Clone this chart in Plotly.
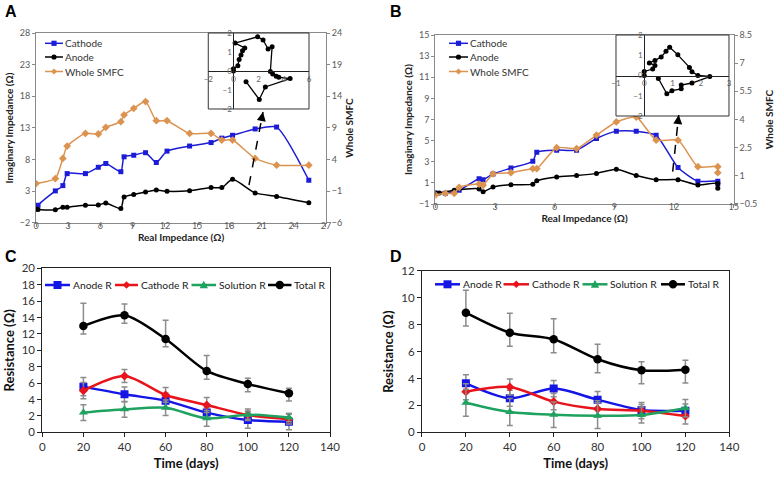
import plotly.graph_objects as go

# ---------------- Panel A data ----------------
a_x = [0, 0.19, 1.8, 2.5, 2.9, 4.6, 5.8, 6.5, 7.9, 8.2, 9.1, 10.2, 11.2, 12.2, 14.3, 16.3, 17.3, 18.3, 20.4, 22.4, 25.4]
a_cathode = [0.16, 0.8, 3.07, 3.9, 5.8, 5.8, 6.8, 7.4, 6.1, 8.45, 8.7, 9.1, 7.55, 9.35, 10.15, 10.7, 11.4, 11.85, 12.85, 13.15, 4.75]
a_anode = [0.2, 0.15, 0.1, 0.5, 0.5, 0.8, 0.85, 1.15, 0.27, 2.1, 2.5, 2.9, 3.2, 3.0, 3.1, 3.6, 3.6, 4.9, 2.75, 2.2, 1.2]
a_whole_x = [0, 1.8, 2.5, 2.9, 4.6, 5.8, 6.5, 7.9, 8.2, 9.1, 10.2, 11.2, 12.2, 14.3, 16.3, 17.3, 18.3, 20.4, 22.4, 25.4]
a_whole = [0.23, 1.02, 4.2, 6.14, 8.15, 8.05, 9.1, 10.0, 11.06, 12.1, 13.17, 10.16, 10.16, 8.15, 8.15, 7.1, 7.1, 4.2, 3.13, 3.13]
a_inset_x = [0, 0, 0.35, 0.45, 0.6, 0.72, 0.9, 0.13, 1.92, 2.35, 2.75, 3.07, 2.93, 3.12, 3.4, 3.6, 4.5, 2.53, 2.05, 1.0]
a_inset_y = [0, 0.12, 0.28, 0.6, 0.84, 1.07, 1.21, 1.47, 1.8, 1.63, 1.16, 1.28, -0.03, -0.16, -0.28, -0.33, -0.4, -0.84, -1.5, -0.56]

# ---------------- Panel B data ----------------
b_cat_x = [0, 0.5, 1.2, 2.2, 2.4, 2.9, 3.8, 4.9, 5.1, 6.1, 7.1, 8.1, 9.1, 10.1, 11.1, 12.2, 13.2, 14.2, 14.2]
b_cathode = [0.05, 0.02, 0.3, 1.4, 1.3, 1.85, 2.4, 3.05, 3.9, 4.1, 4.1, 5.2, 5.9, 5.9, 5.5, 2.45, 1.15, 1.15, 0.9]
b_an_x = [0, 0.2, 0.95, 2.2, 2.4, 2.9, 3.8, 4.9, 5.1, 6.1, 7.1, 8.1, 9.1, 10.1, 11.1, 12.2, 13.2, 14.2, 14.2]
b_anode = [0.05, 0.05, 0.3, 0.43, 0.15, 0.6, 0.82, 0.88, 1.2, 1.56, 1.7, 1.9, 2.3, 1.7, 1.3, 1.3, 0.8, 0.95, 0.5]
b_wh_x = [0, 0.5, 0.95, 1.2, 2.2, 2.4, 2.9, 3.8, 4.9, 5.1, 6.1, 7.1, 8.1, 9.1, 10.1, 11.1, 12.2, 13.2, 14.2, 14.2]
b_whole = [-0.02, 0.07, 0.07, 0.39, 0.56, 0.5, 1.1, 1.17, 1.38, 1.38, 2.5, 2.45, 3.17, 3.87, 4.13, 2.9, 2.9, 1.49, 1.49, 1.17]
b_inset_x = [0, 0, 0.3, 0.38, 0.18, 0.38, 0.6, 0.77, 0.9, 1.19, 1.6, 1.69, 1.9, 2.32, 1.69, 1.31, 1.31, 0.98, 0.8, 0.5]
b_inset_y = [0, 0.2, 0.32, 0.5, 0.62, 0.74, 0.92, 1.2, 1.4, 1.02, 0.4, 0.19, 0.0, -0.05, -0.37, -0.47, -0.66, -0.75, -0.9, -0.15]

# ---------------- Panel C / D data ----------------
days = [20, 40, 60, 80, 100, 120]
c_anode = [5.57, 4.63, 3.86, 2.4, 1.5, 1.3]
c_cathode = [5.08, 6.87, 4.55, 3.33, 2.1, 1.6]
c_solution = [2.4, 2.8, 3.0, 1.7, 2.15, 1.8]
c_total = [12.97, 14.27, 11.38, 7.48, 5.9, 4.76]
c_anode_err = [1.1, 0.9, 0.9, 0.6, 1.0, 1.0]
c_cathode_err = [1.0, 0.8, 0.9, 0.9, 0.5, 0.6]
c_solution_err = [0.95, 0.95, 0.95, 0.95, 0.7, 0.5]
c_total_errp = [2.76, 1.38, 2.3, 1.9, 0.7, 0.6]
c_total_errm = [0.97, 0.97, 0.95, 1.0, 0.95, 0.95]

d_anode = [3.64, 2.53, 3.25, 2.43, 1.66, 1.61]
d_cathode = [3.02, 3.37, 2.28, 1.74, 1.61, 1.21]
d_solution = [2.2, 1.51, 1.31, 1.24, 1.29, 1.79]
d_total = [8.9, 7.41, 6.92, 5.43, 4.61, 4.66]
d_anode_err = [0.65, 0.6, 0.6, 0.6, 0.4, 0.5]
d_cathode_err = [0.6, 0.6, 0.6, 0.6, 0.6, 0.6]
d_solution_err = [1.0, 1.0, 0.95, 0.95, 0.6, 0.65]
d_total_errp = [1.66, 1.45, 1.53, 1.12, 0.63, 0.7]
d_total_errm = [1.0, 1.0, 1.0, 1.0, 1.0, 1.0]

ab_names = ['Cathode', 'Anode', 'Whole SMFC']
cd_names = ['Anode R', 'Cathode R', 'Solution R', 'Total R']

BLUE_AB = '#1c1cd6'
ORANGE = '#dc9350'
BLUE = '#1515e6'
RED = '#e8141b'
GREEN = '#1fa15f'
TICK = '#595959'
FONT = 'Lato'
W, H = 776, 477

fig = go.Figure()

# ---- Panel A ----
fig.add_trace(go.Scatter(x=a_x, y=a_cathode, name=ab_names[0], mode='lines+markers',
                         line=dict(color=BLUE_AB, width=1.5, shape='spline', smoothing=0.6),
                         marker=dict(symbol='square', size=5, color=BLUE_AB), xaxis='x', yaxis='y'))
fig.add_trace(go.Scatter(x=a_x, y=a_anode, name=ab_names[1], mode='lines+markers',
                         line=dict(color='black', width=1.5, shape='spline', smoothing=0.6),
                         marker=dict(symbol='circle', size=5, color='black'), xaxis='x', yaxis='y'))
fig.add_trace(go.Scatter(x=a_whole_x, y=a_whole, name=ab_names[2], mode='lines+markers',
                         line=dict(color=ORANGE, width=1.5, shape='spline', smoothing=0.6),
                         marker=dict(symbol='diamond', size=6, color=ORANGE), xaxis='x', yaxis='y2'))
fig.add_trace(go.Scatter(x=a_inset_x, y=a_inset_y, mode='lines+markers',
                         line=dict(color='black', width=1.3),
                         marker=dict(symbol='circle', size=5, color='black'), xaxis='x5', yaxis='y7'))

# ---- Panel B ----
fig.add_trace(go.Scatter(x=b_cat_x, y=b_cathode, name=ab_names[0], mode='lines+markers',
                         line=dict(color=BLUE_AB, width=1.5, shape='spline', smoothing=0.6),
                         marker=dict(symbol='square', size=5, color=BLUE_AB), xaxis='x2', yaxis='y3'))
fig.add_trace(go.Scatter(x=b_an_x, y=b_anode, name=ab_names[1], mode='lines+markers',
                         line=dict(color='black', width=1.5, shape='spline', smoothing=0.6),
                         marker=dict(symbol='circle', size=5, color='black'), xaxis='x2', yaxis='y3'))
fig.add_trace(go.Scatter(x=b_wh_x, y=b_whole, name=ab_names[2], mode='lines+markers',
                         line=dict(color=ORANGE, width=1.5, shape='spline', smoothing=0.6),
                         marker=dict(symbol='diamond', size=6, color=ORANGE), xaxis='x2', yaxis='y4'))
fig.add_trace(go.Scatter(x=b_inset_x, y=b_inset_y, mode='lines+markers',
                         line=dict(color='black', width=1.3),
                         marker=dict(symbol='circle', size=5, color='black'), xaxis='x6', yaxis='y8'))


def err(arr, arrm=None):
    d = dict(type='data', array=arr, color='#8c8c8c', thickness=1.5, width=3)
    if arrm is not None:
        d['symmetric'] = False
        d['arrayminus'] = arrm
    return d


def add_resist(xa, ya, an, ca, so, to, ane, cae, soe, tep, tem):
    specs = [(an, BLUE, 'square', 8, err(ane), cd_names[0]),
             (ca, RED, 'diamond', 7, err(cae), cd_names[1]),
             (so, GREEN, 'triangle-up', 8, err(soe), cd_names[2]),
             (to, 'black', 'circle', 8.5, err(tep, tem), cd_names[3])]
    for vals, col, sym, sz, e, nm in specs:
        fig.add_trace(go.Scatter(x=days, y=vals, name=nm, mode='lines+markers',
                                 line=dict(color=col, width=2.5, shape='spline', smoothing=0.8),
                                 marker=dict(symbol=sym, size=sz, color=col),
                                 error_y=e, xaxis=xa, yaxis=ya))


add_resist('x3', 'y5', c_anode, c_cathode, c_solution, c_total,
           c_anode_err, c_cathode_err, c_solution_err, c_total_errp, c_total_errm)
add_resist('x4', 'y6', d_anode, d_cathode, d_solution, d_total,
           d_anode_err, d_cathode_err, d_solution_err, d_total_errp, d_total_errm)

# ---------------- layout ----------------
small_tick = dict(size=9, color=TICK, family=FONT)
ab_title = dict(size=10, color='#222', family=FONT)


def ab_x(domain, rng, dtick):
    return dict(domain=domain, range=rng, dtick=dtick, tick0=0, showline=True, linecolor='#8a8a8a',
                mirror=True, ticks='outside', ticklen=3, tickcolor='#8a8a8a', showgrid=False,
                zeroline=False, tickfont=small_tick, automargin=False, ticklabelstandoff=-9)


def ab_y(domain, rng, dtick, tick0):
    return dict(domain=domain, range=rng, dtick=dtick, tick0=tick0, showline=True, linecolor='#8a8a8a',
                ticks='outside', ticklen=3, tickcolor='#8a8a8a', showgrid=False, zeroline=False,
                tickfont=small_tick, automargin=False)


A_X = [0.0464, 0.4201]
A_Y = [0.5325, 0.9308]
B_X = [0.561, 0.9455]
B_Y = [0.5723, 0.9266]
C_X = [0.0545, 0.4253]
C_Y = [0.0937, 0.4375]
D_X = [0.5438, 0.9398]
D_Y = [0.0937, 0.4319]
IA_X = [0.2684, 0.3982]
IA_Y = [0.7715, 0.9308]
IB_X = [0.7938, 0.9394]
IB_Y = [0.7568, 0.9266]

xa = ab_x(A_X, [0, 27], 3)
xa.update(anchor='y', title=dict(text='<b>Real Impedance (Ω)</b>', font=ab_title, standoff=3))
ya = ab_y(A_Y, [-2, 28], 5, -2)
ya.update(anchor='x', title=dict(text='<b>Imaginary Impedance (Ω)</b>', font=ab_title, standoff=4))
ya2 = ab_y(A_Y, [-6, 24], 5, -6)
ya2.update(overlaying='y', side='right', anchor='x',
           title=dict(text='<b>Whole SMFC</b>', font=ab_title, standoff=4))

xb = ab_x(B_X, [0, 15], 3)
xb.update(anchor='y3', title=dict(text='<b>Real Impedance (Ω)</b>', font=ab_title, standoff=3))
yb = ab_y(B_Y, [-1, 15], 2, -1)
yb.update(anchor='x2', title=dict(text='<b>Imaginary Impedance (Ω)</b>', font=ab_title, standoff=4))
yb2 = ab_y(B_Y, [-0.5, 8.5], 1.5, -0.5)
yb2.update(overlaying='y3', side='right', anchor='x2',
           title=dict(text='<b>Whole SMFC</b>', font=ab_title, standoff=9))

cd_tick = dict(size=11.5, color='#333', family=FONT)
cd_title = dict(size=13, color='#111', family=FONT)


def cd_x(domain, anchor):
    return dict(domain=domain, anchor=anchor, range=[0, 140], dtick=20, tick0=0, showline=True,
                linecolor='#222', linewidth=1, mirror=True, ticks='outside', ticklen=4, tickcolor='#222',
                showgrid=False, zeroline=False, tickfont=cd_tick, automargin=False,
                title=dict(text='<b>Time (days)</b>', font=cd_title, standoff=6))


def cd_y(domain, anchor, rng, dtick):
    return dict(domain=domain, anchor=anchor, range=rng, dtick=dtick, tick0=0, showline=True,
                linecolor='#222', linewidth=1, mirror=True, ticks='outside', ticklen=4, tickcolor='#222',
                showgrid=False, zeroline=False, tickfont=cd_tick, automargin=False,
                title=dict(text='<b>Resistance (Ω)</b>', font=cd_title, standoff=4))


inset_tick = dict(size=8, color='#666', family=FONT)


def inset_x(domain, rng, pos):
    return dict(domain=domain, range=rng, dtick=2 if rng[1] > 4 else 1, anchor='free', position=pos,
                showline=True, linecolor='#222', linewidth=1, ticks='', showgrid=False, zeroline=False,
                tickfont=inset_tick, automargin=False)


def inset_y(domain, pos):
    return dict(domain=domain, range=[-2, 2], dtick=1, anchor='free', position=pos,
                showline=True, linecolor='#222', linewidth=1, ticks='', showgrid=False, zeroline=False,
                tickfont=inset_tick, automargin=False)


fig.update_layout(
    width=W, height=H, margin=dict(l=0, r=0, t=0, b=0),
    paper_bgcolor='white', plot_bgcolor='white',
    font=dict(family=FONT, color='#333'),
    xaxis=xa, yaxis=ya, yaxis2=ya2,
    xaxis2=xb, yaxis3=yb, yaxis4=yb2,
    xaxis3=cd_x(C_X, 'y5'), yaxis5=cd_y(C_Y, 'x3', [0, 20], 2),
    xaxis4=cd_x(D_X, 'y6'), yaxis6=cd_y(D_Y, 'x4', [0, 12], 2),
    xaxis5=inset_x(IA_X, [-2, 6], (IA_Y[0] + IA_Y[1]) / 2),
    yaxis7=inset_y(IA_Y, IA_X[0] + 0.25 * (IA_X[1] - IA_X[0])),
    xaxis6=inset_x(IB_X, [-1, 3], (IB_Y[0] + IB_Y[1]) / 2),
    yaxis8=inset_y(IB_Y, IB_X[0] + 0.25 * (IB_X[1] - IB_X[0])),
    showlegend=False,
)


def px(x):
    return x / W


def py(y):
    return 1 - y / H


# ---- custom legend symbols (Excel-style) ----
def marker_shape(sym, cx, cy, r, col):
    if sym == 'square':
        fig.add_shape(type='rect', xref='paper', yref='paper', x0=px(cx - r), x1=px(cx + r),
                      y0=py(cy + r), y1=py(cy - r), line=dict(width=0), fillcolor=col)
    elif sym == 'circle':
        fig.add_shape(type='circle', xref='paper', yref='paper', x0=px(cx - r), x1=px(cx + r),
                      y0=py(cy + r), y1=py(cy - r), line=dict(width=0), fillcolor=col)
    elif sym == 'diamond':
        p = 'M %f,%f L %f,%f L %f,%f L %f,%f Z' % (px(cx), py(cy - r), px(cx + r), py(cy),
                                                   px(cx), py(cy + r), px(cx - r), py(cy))
        fig.add_shape(type='path', xref='paper', yref='paper', path=p, line=dict(width=0), fillcolor=col)
    elif sym == 'triangle':
        p = 'M %f,%f L %f,%f L %f,%f Z' % (px(cx), py(cy - r), px(cx + r), py(cy + r * 0.8),
                                           px(cx - r), py(cy + r * 0.8))
        fig.add_shape(type='path', xref='paper', yref='paper', path=p, line=dict(width=0), fillcolor=col)


def legend_item(x0, x1, y, col, sym, r, lw, text, tx, fsize, fcol):
    fig.add_shape(type='line', xref='paper', yref='paper', x0=px(x0), x1=px(x1), y0=py(y), y1=py(y),
                  line=dict(color=col, width=lw))
    marker_shape(sym, (x0 + x1) / 2, y, r, col)
    fig.add_annotation(x=px(tx), y=py(y), xref='paper', yref='paper', text=text, showarrow=False,
                       xanchor='left', yanchor='middle', borderpad=0,
                       font=dict(size=fsize, color=fcol, family=FONT))


ab_cols = [(BLUE_AB, 'square', 2.6), ('black', 'circle', 2.6), (ORANGE, 'diamond', 3)]
for lx0, lx1, tx in [(45, 63, 64), (449, 468, 469)]:
    for (col, sym, r), nm, y in zip(ab_cols, ab_names, [43.3, 57, 71.5]):
        legend_item(lx0, lx1, y, col, sym, r, 1.5, nm, tx, 10, '#333')

cd_cols = [(BLUE, 'square', 4), (RED, 'diamond', 3.8), (GREEN, 'triangle', 4.2), ('black', 'circle', 4.2)]
c_leg = [(45, 70, 71.5), (115, 138, 140), (191.5, 216, 217.5), (268, 291.5, 293)]
d_leg = [(435, 460, 461.5), (503.5, 529, 530.5), (582.5, 607.5, 609), (661, 685, 686.5)]
for leg, y in [(c_leg, 285), (d_leg, 284.3)]:
    for (col, sym, r), nm, (x0, x1, tx) in zip(cd_cols, cd_names, leg):
        legend_item(x0, x1, y, col, sym, r, 2.5, nm, tx, 10.3, '#222')

# inset frames
for (xd, yd) in [(IA_X, IA_Y), (IB_X, IB_Y)]:
    fig.add_shape(type='rect', xref='paper', yref='paper', x0=xd[0], x1=xd[1], y0=yd[0], y1=yd[1],
                  line=dict(color='#333', width=1), fillcolor='rgba(0,0,0,0)', layer='above')

# dashed pointer arrows
arrows = [((249, 185), (263, 112)), ((672.7, 171.7), (678.7, 115))]
for (t, h) in arrows:
    fig.add_shape(type='line', xref='paper', yref='paper', x0=px(t[0]), y0=py(t[1]), x1=px(h[0]), y1=py(h[1]),
                  line=dict(color='black', width=1.5, dash='dash'))
    dx, dy = h[0] - t[0], h[1] - t[1]
    L = (dx ** 2 + dy ** 2) ** 0.5
    fig.add_annotation(x=px(h[0]), y=py(h[1]), xref='paper', yref='paper', text='', showarrow=True,
                       ax=-dx / L * 10, ay=-dy / L * 10, axref='pixel', ayref='pixel',
                       arrowhead=2, arrowsize=1.2, arrowwidth=1.5, arrowcolor='black', standoff=0)

# panel letters
for letter, lx, ly in [('A', 11, 12), ('B', 396, 12), ('C', 11, 256), ('D', 396, 256)]:
    fig.add_annotation(x=px(lx), y=py(ly), xref='paper', yref='paper', text='<b>%s</b>' % letter,
                       showarrow=False, font=dict(size=16, color='black', family='Liberation Sans'),
                       xanchor='center', yanchor='middle')

fig.write_html('out.html', config={'displayModeBar': False},
               post_script="document.body.style.margin='0px';")
